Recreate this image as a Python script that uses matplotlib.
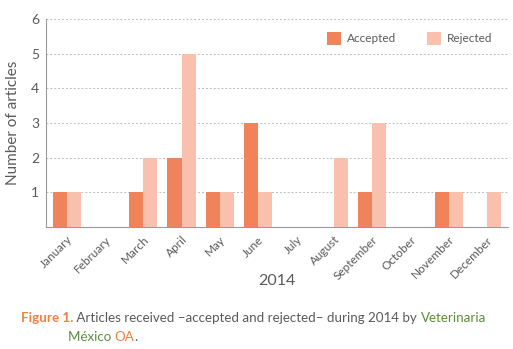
import numpy as np
import matplotlib.pyplot as plt

months = ['January', 'February', 'March', 'April', 'May', 'June', 'July',
          'August', 'September', 'October', 'November', 'December']
accepted = [1, 0, 1, 2, 1, 3, 0, 0, 1, 0, 1, 0]
rejected = [1, 0, 2, 5, 1, 1, 0, 2, 3, 0, 1, 1]

c_acc = '#f0835a'
c_rej = '#f9c0ae'
grey = '#5a5a5a'
green = '#5b8c3c'
orange = '#f07f45'

plt.rcParams['font.family'] = ['Lato', 'DejaVu Sans']

fig = plt.figure(figsize=(5.13, 3.49), dpi=100)
ax = fig.add_axes([0.0897, 0.3496, 0.9003, 0.596])

x = np.arange(len(months))
w = 0.37
ax.bar(x - w / 2, accepted, w, color=c_acc, label='Accepted', zorder=3)
ax.bar(x + w / 2, rejected, w, color=c_rej, label='Rejected', zorder=3)

ax.set_xlim(-0.55, 11.55)
ax.set_ylim(0, 6)
ax.set_yticks(range(1, 7))
ax.yaxis.grid(True, linestyle=(0, (2, 2)), color='#bbbbbb', linewidth=0.7, zorder=0)
for s in ['top', 'right']:
    ax.spines[s].set_visible(False)
for s in ['left', 'bottom']:
    ax.spines[s].set_color('#999999')
    ax.spines[s].set_linewidth(0.8)

ax.set_xticks(x)
ax.set_xticklabels(months, rotation=45, ha='right', rotation_mode='anchor')
ax.tick_params(axis='x', length=0, pad=5, labelsize=8.5, labelcolor=grey)
ax.tick_params(axis='y', length=0, pad=5, labelsize=10, labelcolor=grey)
ax.set_xlabel('2014', fontsize=11.5, color=grey, labelpad=-6)
ax.set_ylabel('Number of articles', fontsize=11, color=grey, labelpad=8)

ax.legend(loc='upper right', bbox_to_anchor=(0.99, 0.99), ncol=2, frameon=False,
          fontsize=8.5, labelcolor=grey, handlelength=1.2, handleheight=1.3,
          columnspacing=2.6, handletextpad=0.5)

# caption with mixed colours
fs = 9.6
t = fig.text(21 / 513, 1 - 322 / 349, 'Figure 1.', color=orange, fontsize=fs,
             fontweight='bold', va='baseline')
t = ax.annotate(' Articles received \u2013accepted and rejected\u2013 during 2014 by ',
                xy=(1, 0), xycoords=t, va='bottom', color=grey, fontsize=fs)
t = ax.annotate('Veterinaria', xy=(1, 0), xycoords=t, va='bottom', color=green, fontsize=fs)
t2 = fig.text(68 / 513, 1 - 341 / 349, 'México ', color=green, fontsize=fs, va='baseline')
t2 = ax.annotate('OA', xy=(1, 0), xycoords=t2, va='bottom', color=orange, fontsize=fs)
ax.annotate('.', xy=(1, 0), xycoords=t2, va='bottom', color=grey, fontsize=fs)

fig.savefig('out.png', dpi=100)
